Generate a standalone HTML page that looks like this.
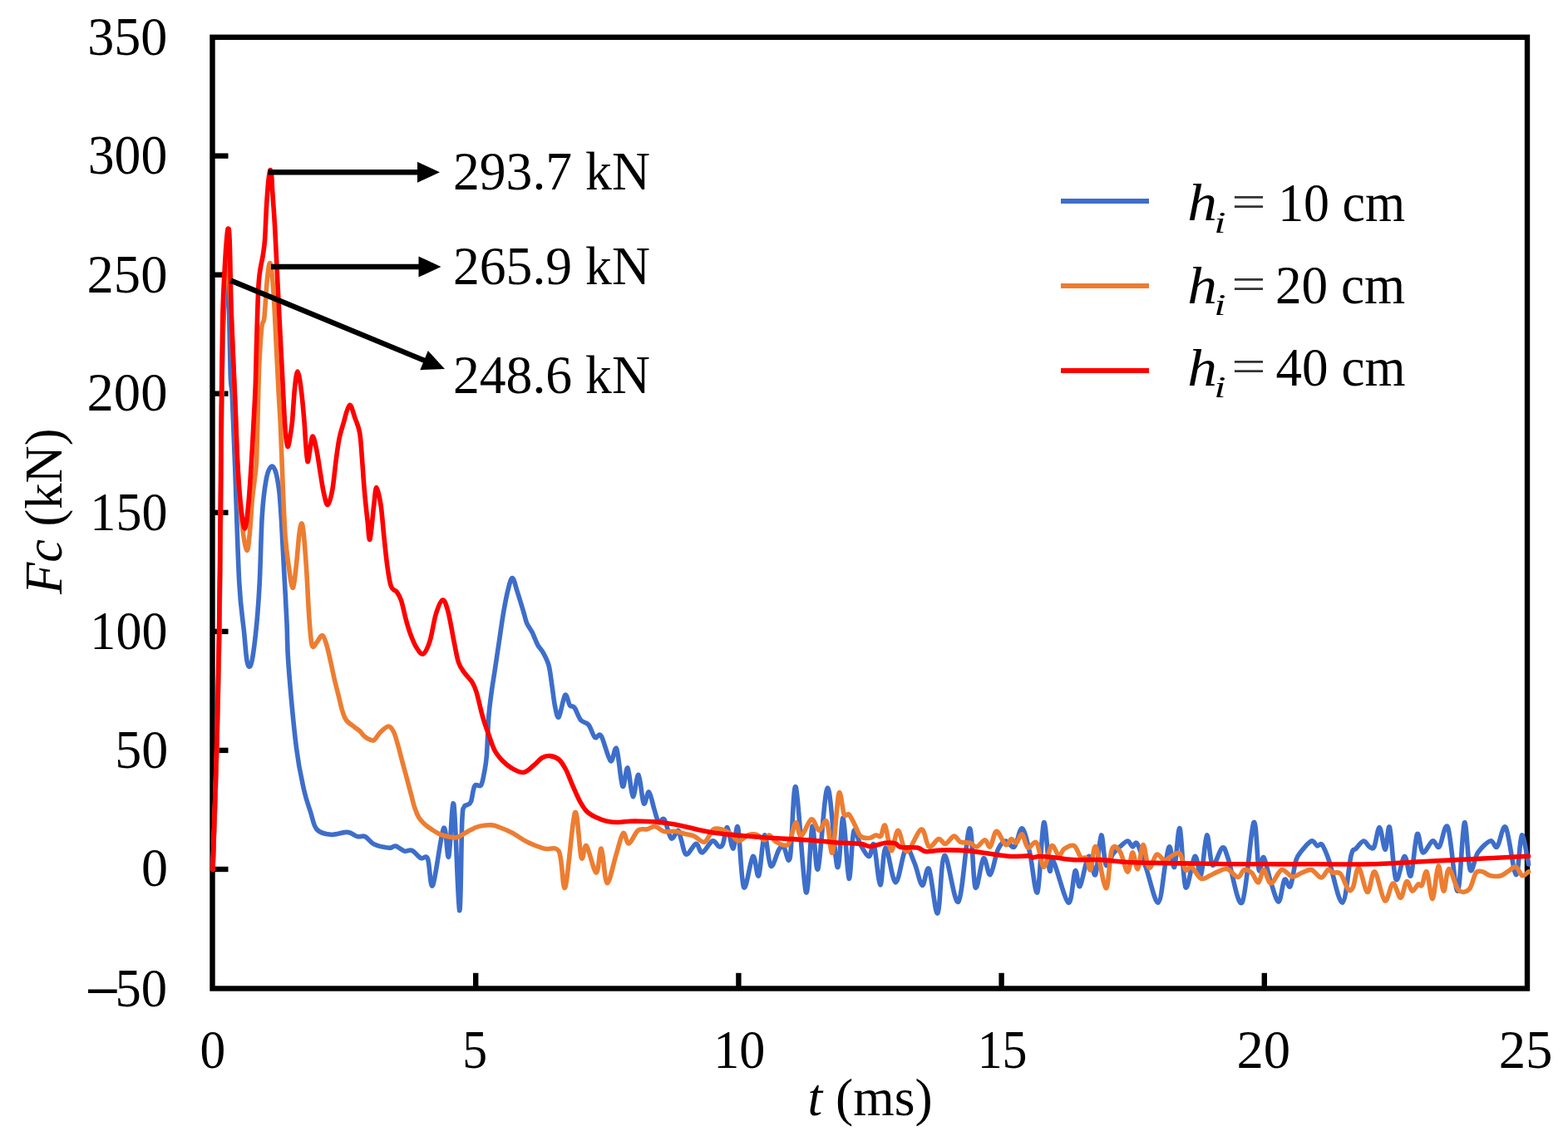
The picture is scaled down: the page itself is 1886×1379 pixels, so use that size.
<!DOCTYPE html>
<html><head><meta charset="utf-8"><title>Fc vs t</title>
<style>html,body{margin:0;padding:0;background:#fff;}svg{display:block;}</style>
</head><body>
<svg width="1886" height="1379" viewBox="0 0 1886 1379">
<rect width="1886" height="1379" fill="#fff"/>
<rect x="255.5" y="44.8" width="1581.5" height="1144.7" fill="none" stroke="#000" stroke-width="6.4"/>
<line x1="255" y1="1046.0" x2="274.5" y2="1046.0" stroke="#000" stroke-width="6.4"/>
<line x1="255" y1="902.9" x2="274.5" y2="902.9" stroke="#000" stroke-width="6.4"/>
<line x1="255" y1="759.9" x2="274.5" y2="759.9" stroke="#000" stroke-width="6.4"/>
<line x1="255" y1="616.8" x2="274.5" y2="616.8" stroke="#000" stroke-width="6.4"/>
<line x1="255" y1="473.7" x2="274.5" y2="473.7" stroke="#000" stroke-width="6.4"/>
<line x1="255" y1="330.7" x2="274.5" y2="330.7" stroke="#000" stroke-width="6.4"/>
<line x1="255" y1="187.6" x2="274.5" y2="187.6" stroke="#000" stroke-width="6.4"/>
<line x1="572.2" y1="1190" x2="572.2" y2="1170.8" stroke="#000" stroke-width="6.4"/>
<line x1="888.4" y1="1190" x2="888.4" y2="1170.8" stroke="#000" stroke-width="6.4"/>
<line x1="1204.6" y1="1190" x2="1204.6" y2="1170.8" stroke="#000" stroke-width="6.4"/>
<line x1="1520.8" y1="1190" x2="1520.8" y2="1170.8" stroke="#000" stroke-width="6.4"/>
<path d="M256.0 1046.0C256.8 1021.7 259.5 947.7 260.8 900.0C262.1 852.3 263.0 810.0 263.8 760.0C264.6 710.0 265.2 643.3 265.6 600.0C266.1 556.7 266.0 533.3 266.5 500.0C267.0 466.7 267.7 424.7 268.4 400.0C269.1 375.3 270.0 363.2 270.8 352.0C271.6 340.8 272.6 334.2 273.3 333.0C274.0 331.8 274.4 325.5 275.0 345.0C275.6 364.5 276.5 428.0 277.2 450.0C277.9 472.0 278.4 458.7 279.3 477.0C280.2 495.3 281.2 522.8 282.6 560.0C284.0 597.2 285.9 666.7 287.7 700.0C289.5 733.3 291.9 744.2 293.5 760.0C295.1 775.8 295.8 788.0 297.0 795.0C298.2 802.0 299.5 802.8 300.7 802.0C301.9 801.2 302.6 798.7 304.0 790.0C305.4 781.3 307.4 765.0 308.8 750.0C310.2 735.0 311.2 721.7 312.3 700.0C313.4 678.3 314.0 640.3 315.3 620.0C316.6 599.7 318.3 587.7 320.0 578.0C321.7 568.3 323.7 564.0 325.5 562.0C327.3 560.0 329.3 561.3 331.0 566.0C332.7 570.7 334.4 579.8 335.7 590.0C336.9 600.2 337.6 612.0 338.5 627.0C339.4 642.0 340.2 659.5 341.3 680.0C342.4 700.5 344.1 730.0 345.0 750.0C345.9 770.0 345.1 775.0 347.0 800.0C348.9 825.0 353.4 875.0 356.5 900.0C359.6 925.0 362.7 937.2 365.5 950.0C368.3 962.8 370.9 969.0 373.5 977.0C376.1 985.0 376.9 993.5 381.0 998.0C385.1 1002.5 391.6 1003.7 397.8 1004.3C404.0 1004.9 412.6 1001.0 418.0 1001.4C423.4 1001.8 426.5 1005.7 430.0 1006.6C433.5 1007.5 435.8 1005.1 439.1 1006.6C442.4 1008.1 445.0 1013.5 449.8 1015.8C454.6 1018.1 463.8 1019.9 468.1 1020.3C472.4 1020.7 472.6 1017.4 475.7 1018.0C478.8 1018.6 483.1 1023.2 486.4 1024.1C489.7 1025.0 492.2 1022.0 495.5 1023.4C498.8 1024.8 503.0 1030.8 506.2 1032.5C509.4 1034.2 512.1 1027.8 514.5 1033.3C516.9 1038.8 517.4 1071.4 520.6 1065.3C523.8 1059.2 530.4 1002.4 533.6 996.7C536.8 991.0 537.7 1035.8 539.7 1031.0C541.7 1026.2 543.6 957.0 545.8 967.8C547.9 978.6 550.9 1092.3 552.6 1095.7C554.3 1099.1 554.8 1008.8 555.8 988.0C556.8 967.2 557.3 974.2 558.3 971.0C559.3 967.8 560.6 969.6 562.0 968.5C563.4 967.4 565.0 968.3 566.5 964.5C568.0 960.7 568.9 949.0 570.9 945.7C572.9 942.5 576.6 947.5 578.5 945.0C580.4 942.5 581.1 936.5 582.3 930.5C583.4 924.5 584.5 920.5 585.4 909.1C586.3 897.7 586.8 875.2 587.8 862.3C588.8 849.3 590.2 840.5 591.4 831.4C592.6 822.3 593.5 817.9 595.0 807.9C596.5 797.9 598.6 783.7 600.4 771.6C602.2 759.5 604.1 745.6 605.9 735.3C607.7 725.0 609.3 716.6 611.0 710.0C612.7 703.4 614.4 695.2 616.3 695.5C618.2 695.8 620.0 704.9 622.2 711.8C624.5 718.6 627.9 730.3 629.8 736.6C631.7 742.9 631.9 745.6 633.6 749.7C635.3 753.8 638.0 756.6 640.2 761.0C642.4 765.4 644.6 772.0 646.8 776.1C649.0 780.2 651.2 781.5 653.4 785.6C655.6 789.7 658.3 794.3 660.0 800.6C661.7 806.9 662.5 815.1 663.7 823.3C665.0 831.5 666.1 843.0 667.5 849.6C668.9 856.2 670.2 865.0 672.2 862.8C674.2 860.6 677.5 838.9 679.7 836.5C681.9 834.1 683.5 846.2 685.4 848.7C687.3 851.2 688.8 848.5 691.0 851.5C693.2 854.5 695.8 863.1 698.6 866.6C701.4 870.1 705.2 868.8 708.0 872.3C710.8 875.8 713.1 885.2 715.6 887.4C718.1 889.6 720.0 880.8 723.1 885.5C726.2 890.2 731.3 913.0 734.4 915.6C737.5 918.2 739.2 895.9 741.6 901.0C744.0 906.1 746.6 942.2 748.8 946.1C751.0 950.0 752.9 922.0 755.0 924.1C757.1 926.2 759.0 957.1 761.2 958.5C763.4 959.9 765.8 931.0 768.0 932.4C770.2 933.8 772.2 963.4 774.3 966.8C776.4 970.2 778.4 952.0 780.5 953.0C782.6 954.0 784.8 966.9 786.7 973.0C788.7 979.1 790.2 987.3 792.2 989.5C794.2 991.7 796.5 982.8 799.0 986.0C801.5 989.2 804.5 1006.6 807.3 1008.8C810.1 1011.0 813.6 999.1 815.6 999.2C817.6 999.3 817.5 1004.8 819.1 1009.6C820.8 1014.4 822.5 1027.2 825.5 1028.2C828.5 1029.2 833.9 1015.8 837.1 1015.4C840.3 1015.0 841.4 1026.5 844.7 1025.9C848.0 1025.3 853.5 1013.2 856.9 1012.0C860.3 1010.8 862.9 1018.3 865.0 1018.9C867.1 1019.5 868.0 1019.3 869.6 1015.4C871.2 1011.5 872.9 994.7 874.9 995.7C876.9 996.7 879.7 1021.2 881.8 1021.2C883.9 1021.2 885.5 988.0 887.6 995.7C889.7 1003.5 891.6 1061.9 894.6 1067.7C897.6 1073.5 902.6 1032.8 905.6 1030.5C908.6 1028.2 910.3 1058.0 912.6 1053.7C914.9 1049.5 917.1 1006.9 919.5 1005.0C921.9 1003.1 924.2 1039.2 927.1 1042.1C930.0 1045.0 934.3 1026.3 936.9 1022.4C939.5 1018.5 940.5 1017.3 942.7 1018.9C944.9 1020.5 947.9 1043.7 950.3 1031.7C952.7 1019.7 954.0 940.0 957.2 947.0C960.4 954.0 966.1 1065.6 969.4 1073.5C972.7 1081.4 974.6 999.1 977.0 994.5C979.4 989.9 980.8 1053.3 983.9 1045.6C987.0 1037.9 991.6 948.5 995.5 948.1C999.4 947.7 1004.0 1037.3 1007.1 1043.3C1010.2 1049.3 1011.8 981.8 1014.1 984.1C1016.4 986.4 1019.0 1054.5 1021.1 1057.2C1023.2 1059.9 1024.6 1007.1 1026.9 1000.3C1029.2 993.5 1031.9 1011.6 1035.0 1016.6C1038.1 1021.6 1042.7 1030.5 1045.4 1030.5C1048.1 1030.5 1049.0 1010.9 1051.2 1016.6C1053.4 1022.3 1056.5 1064.2 1058.8 1064.8C1061.1 1065.4 1062.1 1020.6 1065.2 1020.1C1068.3 1019.6 1073.2 1061.7 1077.3 1061.9C1081.3 1062.1 1085.7 1025.1 1089.5 1021.2C1093.3 1017.3 1096.7 1031.2 1100.0 1038.6C1103.3 1045.9 1106.4 1064.1 1109.3 1065.3C1112.2 1066.5 1114.3 1040.0 1117.4 1045.6C1120.5 1051.2 1124.7 1101.7 1127.8 1099.0C1130.9 1096.3 1131.8 1031.7 1136.0 1029.4C1140.2 1027.1 1147.8 1090.4 1152.8 1085.0C1157.8 1079.6 1162.7 999.8 1166.1 996.9C1169.5 994.0 1170.3 1061.7 1173.1 1067.7C1175.9 1073.7 1179.9 1035.3 1182.9 1032.8C1185.9 1030.3 1188.2 1054.3 1191.1 1052.6C1194.0 1050.9 1197.2 1029.2 1200.3 1022.4C1203.4 1015.6 1206.3 1012.6 1209.6 1012.0C1212.9 1011.4 1216.8 1021.4 1220.1 1018.9C1223.4 1016.4 1226.3 995.7 1229.4 996.9C1232.5 998.1 1235.5 1013.1 1238.6 1025.9C1241.7 1038.7 1245.1 1079.5 1247.9 1073.5C1250.7 1067.5 1253.1 994.4 1255.5 989.9C1257.9 985.4 1260.5 1039.1 1262.4 1046.8C1264.3 1054.5 1263.3 1029.7 1267.1 1036.3C1270.9 1042.9 1280.8 1084.3 1285.1 1086.2C1289.4 1088.1 1290.9 1051.2 1293.2 1047.9C1295.5 1044.6 1296.3 1069.4 1299.0 1066.5C1301.7 1063.6 1306.3 1032.8 1309.4 1030.5C1312.5 1028.2 1315.1 1056.8 1317.6 1052.6C1320.1 1048.3 1322.4 1006.9 1324.5 1005.0C1326.6 1003.1 1327.9 1037.3 1330.3 1041.0C1332.7 1044.7 1336.2 1030.7 1339.0 1027.0C1341.8 1023.3 1344.2 1021.4 1347.1 1018.9C1350.0 1016.4 1353.9 1012.0 1356.4 1012.0C1358.9 1012.0 1360.3 1018.3 1362.2 1018.9C1364.1 1019.5 1365.3 1011.1 1368.0 1015.4C1370.7 1019.6 1374.3 1032.6 1378.5 1044.4C1382.7 1056.2 1389.1 1087.0 1393.0 1086.2C1396.9 1085.4 1399.4 1051.0 1401.7 1039.8C1404.0 1028.6 1405.1 1018.3 1406.9 1018.9C1408.7 1019.5 1410.7 1047.0 1412.7 1043.3C1414.7 1039.6 1416.9 992.8 1419.1 996.9C1421.3 1001.0 1423.0 1062.1 1426.0 1067.7C1429.0 1073.3 1434.0 1033.0 1437.1 1030.5C1440.2 1028.0 1442.2 1056.8 1444.6 1052.6C1447.0 1048.3 1449.3 1006.9 1451.6 1005.0C1453.9 1003.1 1455.4 1038.5 1458.5 1041.0C1461.6 1043.5 1467.0 1021.5 1470.1 1020.1C1473.2 1018.7 1473.1 1021.8 1477.1 1032.8C1481.1 1043.8 1488.9 1093.2 1494.0 1086.0C1499.1 1078.8 1504.5 996.4 1507.9 989.9C1511.3 983.4 1512.2 1039.8 1514.2 1046.8C1516.2 1053.8 1517.6 1029.2 1520.0 1031.7C1522.4 1034.2 1525.7 1053.0 1528.7 1061.9C1531.7 1070.8 1535.3 1085.7 1538.0 1085.1C1540.7 1084.5 1542.7 1061.5 1545.0 1058.4C1547.3 1055.3 1549.7 1070.4 1552.0 1066.5C1554.3 1062.6 1556.6 1042.4 1558.9 1035.2C1561.2 1028.0 1562.8 1027.5 1565.9 1023.6C1569.0 1019.7 1574.4 1013.0 1577.5 1012.0C1580.6 1011.0 1582.3 1017.0 1584.4 1017.8C1586.5 1018.6 1587.9 1013.7 1590.2 1016.6C1592.5 1019.5 1594.3 1023.6 1598.4 1035.2C1602.5 1046.8 1610.1 1087.2 1614.6 1086.2C1619.0 1085.2 1622.4 1040.2 1625.1 1029.4C1627.8 1018.6 1628.4 1024.1 1630.9 1021.2C1633.4 1018.3 1637.4 1012.4 1640.1 1012.0C1642.8 1011.6 1645.0 1017.8 1647.1 1018.9C1649.2 1020.0 1650.9 1022.8 1652.9 1018.9C1654.9 1015.0 1657.1 995.1 1659.3 995.7C1661.5 996.3 1664.2 1022.4 1666.2 1022.4C1668.2 1022.4 1669.4 989.8 1671.5 995.7C1673.6 1001.6 1676.0 1052.2 1679.0 1058.0C1682.0 1063.8 1686.4 1031.2 1689.4 1030.5C1692.4 1029.8 1694.5 1058.2 1697.0 1053.7C1699.5 1049.2 1702.1 1008.4 1704.5 1003.8C1706.9 999.1 1708.4 1024.5 1711.5 1025.8C1714.6 1027.1 1719.8 1013.0 1723.1 1011.9C1726.4 1010.8 1728.1 1021.6 1731.2 1018.9C1734.3 1016.2 1737.9 986.8 1741.6 995.7C1745.3 1004.6 1749.9 1073.2 1753.2 1072.2C1756.5 1071.2 1758.9 994.1 1761.4 989.9C1763.9 985.6 1765.6 1040.7 1768.3 1046.7C1771.0 1052.7 1773.5 1031.6 1777.6 1025.8C1781.7 1020.0 1788.8 1013.0 1792.7 1011.9C1796.6 1010.8 1797.7 1021.6 1800.8 1018.9C1803.9 1016.2 1807.4 990.1 1811.2 995.7C1815.0 1001.3 1820.2 1051.0 1823.4 1052.5C1826.6 1054.0 1827.9 1007.1 1830.4 1005.0C1832.9 1002.9 1837.2 1034.2 1838.5 1040.0" fill="none" stroke="#3D6ECA" stroke-width="5.6" stroke-linejoin="round" stroke-linecap="round"/>
<path d="M256.0 1046.0C256.8 1021.7 259.5 947.7 260.8 900.0C262.1 852.3 263.0 810.0 263.8 760.0C264.6 710.0 265.2 643.3 265.6 600.0C266.1 556.7 266.1 536.7 266.5 500.0C266.9 463.3 267.5 409.2 268.3 380.0C269.1 350.8 270.5 337.3 271.3 325.0C272.1 312.7 272.3 305.2 273.0 306.0C273.7 306.8 274.6 317.7 275.5 330.0C276.4 342.3 277.1 355.5 278.2 380.0C279.3 404.5 281.1 447.0 282.4 477.0C283.7 507.0 284.4 535.3 285.8 560.0C287.2 584.7 288.7 608.0 290.5 625.0C292.3 642.0 295.1 659.5 296.8 662.0C298.5 664.5 299.4 650.0 300.5 640.0C301.6 630.0 302.3 612.8 303.3 602.0C304.3 591.2 305.6 583.7 306.5 575.0C307.4 566.3 308.0 567.5 308.7 550.0C309.4 532.5 310.2 489.3 310.8 470.0C311.4 450.7 311.3 446.8 312.0 434.0C312.7 421.2 313.9 401.7 314.9 393.0C315.9 384.3 316.8 391.7 317.9 382.0C319.0 372.3 320.3 345.8 321.5 335.0C322.7 324.2 323.8 314.2 325.0 317.0C326.2 319.8 327.8 334.8 329.0 352.0C330.2 369.2 331.5 400.3 332.5 420.0C333.5 439.7 334.2 454.3 335.0 470.0C335.8 485.7 336.6 494.0 337.5 514.0C338.4 534.0 339.4 568.0 340.4 590.0C341.3 612.0 342.1 631.3 343.2 646.0C344.3 660.7 345.3 667.8 346.8 678.0C348.3 688.2 350.4 707.2 352.0 707.5C353.6 707.8 355.1 690.9 356.4 680.0C357.7 669.1 358.9 650.3 360.0 642.0C361.1 633.7 362.1 629.5 363.0 630.0C363.9 630.5 364.5 635.0 365.5 645.0C366.5 655.0 368.1 677.5 368.9 690.0C369.7 702.5 370.0 711.0 370.5 720.0C371.0 729.0 371.3 735.3 371.9 743.8C372.5 752.3 373.5 765.2 374.3 771.0C375.1 776.8 375.6 778.2 376.7 778.5C377.8 778.8 379.1 775.3 381.0 773.0C382.9 770.7 385.9 764.1 387.9 764.6C389.8 765.1 391.1 770.7 392.7 775.7C394.3 780.8 395.8 788.0 397.4 794.9C399.0 801.8 400.6 810.3 402.2 817.2C403.8 824.1 405.4 830.0 407.0 836.4C408.6 842.8 410.2 850.5 411.8 855.5C413.4 860.5 414.2 863.5 416.6 866.7C419.0 869.9 423.6 872.6 426.2 874.7C428.8 876.8 430.4 877.5 432.5 879.5C434.6 881.5 436.8 884.8 438.9 886.5C441.0 888.2 443.1 889.4 445.0 890.0C446.9 890.6 447.9 892.0 450.1 890.4C452.3 888.8 455.2 883.2 458.1 880.5C461.0 877.8 464.7 874.1 467.2 874.0C469.7 873.9 471.3 876.5 473.2 880.0C475.1 883.5 476.8 890.1 478.3 895.2C479.8 900.3 481.0 905.4 482.3 910.5C483.6 915.6 485.0 920.6 486.4 925.7C487.8 930.8 489.1 935.8 490.5 940.9C491.9 946.0 493.1 951.0 494.5 956.1C495.9 961.2 497.1 966.8 498.6 971.4C500.1 976.0 501.7 980.2 503.7 983.6C505.7 987.0 508.3 989.3 510.8 991.7C513.3 994.1 515.9 995.8 518.9 997.8C521.9 999.8 525.5 1002.4 529.0 1003.9C532.5 1005.4 536.5 1006.3 540.0 1006.9C543.5 1007.5 546.3 1008.6 550.3 1007.4C554.3 1006.2 559.7 1002.0 564.0 999.8C568.3 997.6 571.6 995.5 576.2 994.4C580.8 993.2 587.2 992.6 591.5 992.9C595.8 993.2 598.1 994.5 602.1 996.0C606.1 997.5 610.5 999.2 615.8 1002.0C621.1 1004.8 627.4 1009.8 633.8 1013.0C640.2 1016.2 648.0 1019.2 654.4 1021.2C660.8 1023.2 668.0 1017.0 672.3 1024.7C676.5 1032.4 676.7 1075.2 679.9 1067.4C683.1 1059.6 688.4 983.7 691.6 977.8C694.8 971.9 696.9 1025.5 699.2 1032.2C701.5 1038.9 702.4 1014.8 705.4 1017.8C708.4 1020.8 714.1 1049.5 717.1 1050.1C720.1 1050.7 721.1 1019.1 723.3 1021.2C725.5 1023.3 727.2 1061.3 730.2 1062.5C733.2 1063.7 738.0 1038.1 741.2 1028.1C744.4 1018.1 747.0 1004.8 749.5 1002.6C752.0 1000.4 753.4 1015.6 756.4 1015.0C759.4 1014.4 763.7 1002.1 767.4 999.2C771.1 996.3 775.0 998.6 778.4 997.8C781.8 997.0 784.6 993.9 788.0 994.4C791.4 994.9 795.1 999.6 799.0 1000.6C802.9 1001.6 807.6 999.9 811.6 1000.3C815.6 1000.7 819.3 1002.2 823.2 1003.2C827.1 1004.2 830.7 1004.5 834.8 1006.1C838.9 1007.8 843.7 1014.5 847.6 1013.1C851.5 1011.8 854.3 1000.4 858.0 998.0C861.7 995.6 866.1 997.7 869.6 998.6C873.1 999.5 875.8 1001.0 878.9 1003.2C882.0 1005.4 884.7 1011.7 888.2 1012.0C891.7 1012.3 896.1 1006.3 899.8 1005.0C903.5 1003.7 906.9 1003.4 910.2 1004.4C913.5 1005.4 917.0 1010.7 919.5 1010.8C922.0 1010.9 923.0 1004.6 925.3 1005.0C927.6 1005.4 930.0 1011.1 933.5 1013.1C937.0 1015.1 943.3 1017.8 946.2 1017.2C949.1 1016.6 949.1 1014.2 950.9 1009.6C952.7 1005.0 955.1 990.5 957.2 989.9C959.3 989.3 960.5 1006.8 963.6 1006.1C966.7 1005.4 972.4 986.9 976.0 985.8C979.6 984.6 982.0 998.7 985.1 999.2C988.2 999.7 991.7 984.2 994.4 988.7C997.1 993.2 998.9 1031.5 1001.3 1025.9C1003.7 1020.3 1006.6 962.8 1008.9 955.1C1011.2 947.5 1013.3 975.9 1015.3 980.0C1017.3 984.1 1019.0 978.0 1021.1 980.0C1023.2 982.0 1025.7 987.9 1028.0 992.2C1030.3 996.6 1032.1 1003.4 1035.0 1006.1C1037.9 1008.8 1042.3 1008.7 1045.4 1008.5C1048.5 1008.3 1051.3 1005.4 1053.6 1005.0C1055.9 1004.6 1057.6 1008.0 1059.4 1006.1C1061.2 1004.2 1062.5 990.5 1064.6 993.4C1066.7 996.3 1069.5 1022.6 1072.1 1023.6C1074.7 1024.6 1077.1 999.0 1080.2 999.2C1083.3 999.4 1086.1 1024.9 1090.7 1024.7C1095.3 1024.5 1103.6 999.0 1108.1 998.0C1112.5 997.0 1113.9 1017.0 1117.4 1018.9C1120.9 1020.8 1125.7 1010.2 1129.0 1009.6C1132.3 1009.0 1134.0 1016.0 1137.1 1015.4C1140.2 1014.8 1144.5 1006.5 1147.5 1006.1C1150.5 1005.7 1151.9 1011.7 1155.1 1013.1C1158.3 1014.5 1163.4 1013.3 1166.7 1014.3C1170.0 1015.3 1171.8 1019.5 1174.8 1018.9C1177.8 1018.3 1182.0 1010.8 1184.7 1010.8C1187.4 1010.8 1188.8 1020.6 1191.1 1018.9C1193.4 1017.1 1195.5 1000.7 1198.6 1000.3C1201.7 999.9 1206.6 1015.0 1209.6 1016.6C1212.6 1018.2 1214.5 1010.0 1216.6 1009.6C1218.7 1009.2 1220.3 1015.3 1222.4 1014.3C1224.5 1013.3 1227.1 1002.8 1229.4 1003.8C1231.7 1004.8 1233.4 1018.4 1236.3 1020.1C1239.2 1021.9 1243.6 1010.4 1246.8 1014.3C1250.0 1018.2 1252.5 1042.7 1255.5 1043.3C1258.5 1043.9 1261.8 1020.1 1264.8 1017.8C1267.8 1015.5 1270.9 1028.8 1273.5 1029.4C1276.1 1030.0 1277.3 1023.1 1280.4 1021.2C1283.5 1019.3 1288.7 1016.0 1292.0 1017.8C1295.3 1019.5 1297.6 1029.2 1300.1 1031.7C1302.6 1034.2 1305.1 1030.3 1307.1 1032.8C1309.0 1035.3 1310.0 1049.1 1311.8 1046.8C1313.6 1044.5 1315.0 1015.2 1318.1 1018.9C1321.2 1022.6 1327.1 1068.2 1330.3 1068.8C1333.5 1069.4 1334.5 1029.8 1337.3 1022.4C1340.1 1015.0 1343.9 1020.2 1347.1 1024.7C1350.3 1029.2 1353.9 1048.9 1356.4 1049.1C1358.9 1049.3 1360.2 1026.5 1362.2 1025.9C1364.2 1025.3 1366.5 1047.1 1368.6 1045.6C1370.7 1044.0 1372.8 1016.8 1375.0 1016.6C1377.2 1016.4 1379.3 1042.5 1382.0 1044.4C1384.7 1046.3 1388.1 1029.7 1391.2 1028.2C1394.3 1026.7 1397.6 1034.8 1400.5 1035.2C1403.4 1035.6 1405.5 1031.9 1408.6 1030.5C1411.7 1029.1 1416.2 1024.3 1419.1 1027.0C1422.0 1029.7 1423.7 1044.1 1426.0 1046.8C1428.3 1049.5 1429.9 1041.6 1433.0 1043.3C1436.1 1045.0 1440.9 1055.5 1444.6 1057.2C1448.3 1058.9 1451.8 1055.1 1455.1 1053.7C1458.4 1052.3 1460.8 1050.4 1464.3 1049.1C1467.8 1047.8 1471.9 1044.5 1476.0 1045.6C1480.1 1046.7 1485.6 1055.3 1489.0 1055.5C1492.4 1055.7 1493.5 1047.7 1496.2 1046.8C1499.0 1045.9 1502.6 1047.7 1505.5 1050.2C1508.4 1052.7 1511.3 1062.5 1513.7 1061.9C1516.1 1061.3 1517.5 1046.6 1520.0 1046.8C1522.5 1047.0 1525.1 1063.0 1528.7 1063.0C1532.3 1063.0 1537.2 1048.1 1541.5 1046.8C1545.8 1045.5 1550.2 1054.3 1554.3 1054.9C1558.4 1055.5 1562.0 1051.6 1565.9 1050.2C1569.8 1048.8 1573.6 1045.8 1577.5 1046.8C1581.4 1047.8 1585.8 1056.0 1589.1 1056.0C1592.4 1056.0 1594.9 1047.8 1597.2 1046.8C1599.5 1045.8 1600.5 1049.4 1603.0 1050.2C1605.5 1051.0 1609.2 1048.1 1612.3 1051.4C1615.4 1054.7 1619.1 1067.3 1621.6 1070.0C1624.1 1072.7 1625.3 1072.0 1627.4 1067.7C1629.5 1063.4 1631.4 1043.4 1634.3 1044.4C1637.2 1045.4 1641.6 1072.7 1644.8 1073.5C1648.0 1074.3 1650.0 1047.3 1653.5 1049.0C1657.0 1050.7 1662.0 1081.5 1665.7 1083.8C1669.4 1086.1 1672.3 1063.6 1675.5 1063.0C1678.7 1062.4 1682.1 1080.8 1684.8 1080.4C1687.5 1080.0 1689.5 1062.0 1691.8 1060.6C1694.1 1059.2 1696.4 1071.6 1698.7 1072.2C1701.0 1072.8 1703.8 1065.2 1705.7 1064.1C1707.6 1062.9 1708.6 1067.8 1710.3 1065.3C1712.0 1062.8 1714.0 1046.3 1716.1 1049.0C1718.2 1051.7 1720.8 1082.7 1723.1 1081.5C1725.4 1080.3 1727.8 1043.6 1730.0 1042.1C1732.2 1040.5 1734.3 1071.6 1736.4 1072.2C1738.5 1072.8 1739.8 1045.8 1742.8 1045.6C1745.8 1045.4 1750.3 1067.0 1754.4 1071.1C1758.5 1075.1 1763.7 1073.4 1767.2 1069.9C1770.7 1066.4 1772.6 1053.7 1775.3 1050.2C1778.0 1046.7 1780.5 1048.4 1783.4 1049.0C1786.3 1049.6 1789.0 1052.9 1792.7 1053.7C1796.4 1054.5 1801.7 1054.7 1805.4 1053.7C1809.1 1052.7 1811.7 1049.7 1814.7 1047.9C1817.7 1046.2 1820.7 1042.2 1823.4 1043.2C1826.1 1044.2 1828.5 1052.7 1831.0 1053.7C1833.5 1054.7 1837.2 1049.8 1838.5 1049.0" fill="none" stroke="#ED7D31" stroke-width="5.6" stroke-linejoin="round" stroke-linecap="round"/>
<path d="M256.0 1046.0C256.8 1021.7 259.2 947.7 260.5 900.0C261.8 852.3 262.7 810.0 263.5 760.0C264.3 710.0 264.9 643.3 265.3 600.0C265.8 556.7 265.8 536.7 266.2 500.0C266.6 463.3 267.1 410.8 267.8 380.0C268.6 349.2 269.9 330.3 270.7 315.0C271.5 299.7 272.0 294.7 272.6 288.0C273.2 281.3 273.8 274.7 274.4 275.0C275.0 275.3 275.5 272.5 276.2 290.0C276.9 307.5 277.3 348.8 278.4 380.0C279.5 411.2 281.4 447.0 282.6 477.0C283.9 507.0 284.7 537.5 285.9 560.0C287.1 582.5 288.6 599.3 290.0 612.0C291.4 624.7 293.2 636.3 294.6 636.0C296.0 635.7 297.2 622.7 298.5 610.0C299.8 597.3 301.0 578.3 302.2 560.0C303.4 541.7 304.6 516.7 305.5 500.0C306.4 483.3 306.8 475.8 307.4 460.0C307.9 444.2 308.2 423.9 308.8 405.0C309.4 386.1 310.1 359.8 310.8 346.5C311.5 333.2 312.0 331.6 312.9 325.0C313.8 318.4 315.4 313.2 316.3 307.0C317.2 300.8 317.9 297.7 318.6 288.0C319.3 278.3 319.8 260.7 320.5 249.0C321.2 237.3 322.1 225.4 322.8 218.0C323.6 210.6 324.3 205.2 325.0 204.5C325.7 203.8 326.5 209.9 326.9 214.0C327.3 218.1 327.0 220.0 327.6 229.0C328.2 238.0 329.5 254.9 330.3 268.0C331.1 281.1 331.5 291.1 332.3 307.4C333.1 323.7 334.2 346.4 335.2 366.0C336.2 385.6 337.3 408.1 338.2 424.8C339.1 441.5 339.5 450.5 340.3 466.0C341.1 481.5 342.2 506.1 343.2 518.0C344.1 529.9 344.9 536.8 346.0 537.5C347.1 538.2 348.6 527.4 349.5 522.0C350.4 516.6 350.9 514.2 351.7 505.0C352.5 495.8 353.5 476.7 354.5 467.0C355.5 457.3 356.6 447.0 357.9 447.0C359.1 447.0 360.7 457.3 362.0 467.0C363.3 476.7 364.9 494.0 365.8 505.0C366.8 516.0 367.0 524.6 367.7 533.0C368.4 541.4 369.1 554.3 370.0 555.5C370.9 556.7 372.0 545.1 373.0 540.0C374.0 534.9 374.9 524.7 376.2 525.0C377.5 525.3 379.3 534.3 380.9 542.0C382.5 549.7 384.2 562.5 385.6 571.0C387.0 579.5 388.0 586.9 389.4 593.0C390.8 599.1 392.4 608.0 394.1 607.5C395.8 607.0 398.0 599.2 399.7 590.0C401.4 580.8 403.0 562.5 404.4 552.0C405.8 541.5 406.8 534.0 408.2 527.0C409.6 520.0 410.9 516.6 412.9 510.0C414.9 503.4 418.0 488.7 420.4 487.5C422.8 486.3 424.9 497.4 427.0 503.0C429.1 508.6 431.3 512.8 432.7 521.0C434.1 529.2 434.6 540.5 435.5 552.0C436.4 563.5 437.2 577.5 438.3 590.0C439.4 602.5 441.0 617.2 442.1 627.0C443.2 636.8 443.7 652.2 445.0 649.0C446.3 645.8 448.4 618.4 449.7 608.0C451.0 597.6 451.5 586.5 452.9 586.5C454.3 586.5 456.6 598.1 458.1 608.0C459.6 617.9 460.6 634.0 461.9 646.0C463.2 658.0 464.4 670.3 465.7 680.0C467.0 689.7 468.5 699.0 469.9 704.0C471.3 709.0 472.8 708.7 474.0 710.0C475.2 711.3 475.7 709.9 477.1 712.0C478.5 714.1 480.8 717.2 482.6 722.6C484.4 728.0 486.2 737.8 488.0 744.4C489.8 751.0 491.4 756.8 493.5 762.5C495.6 768.2 498.1 774.7 500.7 778.8C503.3 782.9 506.2 788.2 508.9 787.0C511.6 785.8 514.4 779.6 517.0 771.6C519.6 763.6 521.7 747.3 524.3 739.0C526.9 730.7 530.0 722.6 532.4 722.0C534.8 721.4 536.5 727.0 538.8 735.3C541.1 743.6 543.9 761.3 546.0 771.6C548.1 781.9 549.4 790.6 551.5 797.0C553.6 803.4 556.0 805.8 558.7 809.7C561.4 813.6 565.4 816.7 567.8 820.6C570.2 824.5 571.1 826.2 573.2 833.2C575.3 840.2 578.1 853.8 580.5 862.3C582.9 870.8 585.4 877.2 587.8 884.0C590.2 890.8 592.3 897.8 595.0 903.0C597.7 908.2 600.7 911.5 604.0 915.0C607.3 918.5 610.8 921.6 615.0 924.0C619.2 926.4 625.0 930.0 629.5 929.5C634.0 929.0 638.3 923.9 642.0 921.0C645.7 918.1 648.5 913.9 651.7 912.0C654.9 910.1 657.9 909.3 661.3 909.6C664.7 909.9 669.1 911.3 672.3 914.0C675.5 916.7 677.8 920.8 680.6 926.0C683.4 931.2 686.1 939.2 688.9 945.5C691.6 951.8 694.4 958.4 697.1 963.5C699.9 968.6 702.2 972.7 705.4 976.0C708.6 979.3 712.3 981.3 716.4 983.3C720.5 985.3 725.6 987.2 730.2 988.2C734.8 989.2 739.4 989.5 744.0 989.5C748.6 989.5 753.1 988.4 757.7 988.2C762.3 988.0 766.9 988.1 771.5 988.2C776.1 988.3 780.7 988.5 785.3 988.8C789.9 989.1 793.2 989.4 799.0 990.2C804.8 991.0 810.2 991.7 820.0 993.7C829.8 995.7 842.0 999.7 858.0 1002.0C874.0 1004.3 897.3 1006.0 916.0 1007.5C934.7 1009.0 955.2 1009.8 970.0 1010.8C984.8 1011.8 994.0 1012.9 1004.8 1013.7C1015.6 1014.5 1028.0 1014.6 1035.0 1015.4C1042.0 1016.2 1041.6 1018.7 1046.6 1018.5C1051.6 1018.3 1060.2 1014.9 1065.2 1014.3C1070.2 1013.7 1073.7 1014.0 1076.8 1014.9C1079.9 1015.8 1079.2 1018.6 1083.7 1019.5C1088.2 1020.4 1098.5 1019.2 1103.5 1020.1C1108.5 1021.0 1109.1 1024.2 1113.9 1024.7C1118.7 1025.2 1124.3 1023.2 1132.5 1023.0C1140.7 1022.8 1153.2 1022.8 1163.2 1023.6C1173.2 1024.4 1183.5 1026.4 1192.2 1027.6C1200.9 1028.8 1207.9 1030.1 1215.4 1030.5C1223.0 1030.9 1233.0 1029.7 1237.5 1029.9C1242.0 1030.2 1240.0 1031.9 1242.1 1032.0C1244.2 1032.1 1245.9 1030.5 1250.2 1030.5C1254.5 1030.5 1260.9 1031.0 1267.7 1031.7C1274.5 1032.4 1281.5 1034.1 1290.9 1034.6C1300.3 1035.1 1313.0 1034.1 1323.9 1034.6C1334.8 1035.1 1343.2 1036.8 1356.4 1037.5C1369.6 1038.2 1387.3 1038.3 1402.8 1038.6C1418.3 1038.9 1434.8 1039.0 1449.3 1039.2C1463.8 1039.4 1468.2 1039.7 1490.0 1039.8C1511.8 1039.9 1553.3 1039.8 1580.0 1039.8C1606.7 1039.8 1626.7 1040.4 1650.0 1039.8C1673.3 1039.2 1696.4 1037.5 1719.6 1036.3C1742.8 1035.1 1769.4 1033.8 1789.2 1032.8C1809.0 1031.8 1830.3 1030.7 1838.5 1030.3" fill="none" stroke="#FF0000" stroke-width="5.6" stroke-linejoin="round" stroke-linecap="round"/>
<line x1="322.5" y1="207.2" x2="504.0" y2="207.2" stroke="#000" stroke-width="6.4"/>
<polygon points="529.0,207.2 502.0,219.7 502.0,194.7" fill="#000"/>
<line x1="326.0" y1="321.0" x2="505.5" y2="321.0" stroke="#000" stroke-width="6.4"/>
<polygon points="530.5,321.0 503.5,333.5 503.5,308.5" fill="#000"/>
<line x1="277.5" y1="337.5" x2="511.9" y2="434.4" stroke="#000" stroke-width="6.4"/>
<polygon points="535.0,444.0 505.3,445.2 514.8,422.1" fill="#000"/>
<g transform="matrix(0.9929 0 0 1.0279 3.41 -31.40)"><text x="200.0" y="1067.5" font-family='"Liberation Serif", "Times New Roman", serif' font-size="64.5" text-anchor="end" >0</text></g>
<g transform="matrix(0.9932 0 0 1.0163 3.74 -15.44)"><text x="200.0" y="924.4" font-family='"Liberation Serif", "Times New Roman", serif' font-size="64.5" text-anchor="end" >50</text></g>
<g transform="matrix(0.9618 0 0 1.0302 9.06 -23.81)"><text x="200.0" y="781.4" font-family='"Liberation Serif", "Times New Roman", serif' font-size="64.5" text-anchor="end" >100</text></g>
<g transform="matrix(0.9618 0 0 1.0140 9.06 -9.70)"><text x="200.0" y="638.3" font-family='"Liberation Serif", "Times New Roman", serif' font-size="64.5" text-anchor="end" >150</text></g>
<g transform="matrix(1.0022 0 0 1.0116 1.07 -7.06)"><text x="200.0" y="495.2" font-family='"Liberation Serif", "Times New Roman", serif' font-size="64.5" text-anchor="end" >200</text></g>
<g transform="matrix(1.0022 0 0 1.0116 1.07 -4.59)"><text x="200.0" y="352.2" font-family='"Liberation Serif", "Times New Roman", serif' font-size="64.5" text-anchor="end" >250</text></g>
<g transform="matrix(0.9880 0 0 1.0419 3.67 -8.45)"><text x="200.0" y="209.1" font-family='"Liberation Serif", "Times New Roman", serif' font-size="64.5" text-anchor="end" >300</text></g>
<g transform="matrix(0.9935 0 0 1.0256 2.69 -2.09)"><text x="200.0" y="66.0" font-family='"Liberation Serif", "Times New Roman", serif' font-size="64.5" text-anchor="end" >350</text></g>
<g transform="matrix(1.0455 0 0 1.3667 -6.26 -439.43)"><text x="140.0" y="1210.0" font-family='"Liberation Serif", "Times New Roman", serif' font-size="64.5" text-anchor="end" >–</text></g>
<g transform="matrix(0.9712 0 0 1.0302 6.81 -35.58)"><text x="200.0" y="1210.0" font-family='"Liberation Serif", "Times New Roman", serif' font-size="64.5" text-anchor="end" >50</text></g>
<g transform="matrix(0.9536 0 0 1.0256 11.84 -33.00)"><text x="256.0" y="1285.5" font-family='"Liberation Serif", "Times New Roman", serif' font-size="64.5" text-anchor="middle" >0</text></g>
<g transform="matrix(0.9269 0 0 1.0256 40.92 -33.00)"><text x="572.2" y="1285.5" font-family='"Liberation Serif", "Times New Roman", serif' font-size="64.5" text-anchor="middle" >5</text></g>
<g transform="matrix(0.9643 0 0 1.0256 32.69 -33.00)"><text x="888.4" y="1285.5" font-family='"Liberation Serif", "Times New Roman", serif' font-size="64.5" text-anchor="middle" >10</text></g>
<g transform="matrix(0.9286 0 0 1.0256 87.04 -33.00)"><text x="1204.6" y="1285.5" font-family='"Liberation Serif", "Times New Roman", serif' font-size="64.5" text-anchor="middle" >15</text></g>
<g transform="matrix(1.0033 0 0 1.0256 -6.07 -33.00)"><text x="1520.8" y="1285.5" font-family='"Liberation Serif", "Times New Roman", serif' font-size="64.5" text-anchor="middle" >20</text></g>
<g transform="matrix(1.0051 0 0 1.0256 -11.29 -33.00)"><text x="1837.0" y="1285.5" font-family='"Liberation Serif", "Times New Roman", serif' font-size="64.5" text-anchor="middle" >25</text></g>
<g transform="matrix(0.9863 0 0 0.9780 14.93 29.58)"><text x="1046.0" y="1342.0" font-family='"Liberation Serif", "Times New Roman", serif' font-size="64.5" text-anchor="middle" ><tspan font-style="italic">t</tspan> (ms)</text></g>
<g transform="matrix(0.9881 0 0 0.9690 1.34 18.31)"><text transform="translate(74,616) rotate(-90)" font-family='"Liberation Serif", "Times New Roman", serif' font-size="64.5" text-anchor="middle"><tspan font-style="italic">Fc</tspan> (kN)</text></g>
<g transform="matrix(0.9873 0 0 1.0000 3.90 0.50)"><text x="548.0" y="228.0" font-family='"Liberation Serif", "Times New Roman", serif' font-size="64.5" text-anchor="start" >293.7 kN</text></g>
<g transform="matrix(0.9873 0 0 1.0000 3.90 0.00)"><text x="548.0" y="342.5" font-family='"Liberation Serif", "Times New Roman", serif' font-size="64.5" text-anchor="start" >265.9 kN</text></g>
<g transform="matrix(0.9873 0 0 1.0022 3.90 -0.35)"><text x="548.0" y="472.0" font-family='"Liberation Serif", "Times New Roman", serif' font-size="64.5" text-anchor="start" >248.6 kN</text></g>
<g transform="matrix(1.1074 0 0 0.9822 -155.21 4.53)"><text x="1430.0" y="265.7" font-family='"Liberation Serif", "Times New Roman", serif' font-size="64.5" text-anchor="start" font-style="italic" >h</text></g>
<g transform="matrix(1.3857 0 0 0.9760 -565.69 6.72)"><text x="1462.0" y="279.7" font-family='"Liberation Serif", "Times New Roman", serif' font-size="37" text-anchor="start" font-style="italic" >i</text></g>
<g transform="matrix(1.1367 0 0 0.8688 -206.76 30.97)"><text x="1485.0" y="265.7" font-family='"Liberation Serif", "Times New Roman", serif' font-size="64.5" text-anchor="start" fill="#333">=</text></g>
<g transform="matrix(0.9601 0 0 1.0163 56.22 -4.03)"><text x="1542.5" y="265.7" font-family='"Liberation Serif", "Times New Roman", serif' font-size="64.5" text-anchor="start" >10 cm</text></g>
<g transform="matrix(1.1074 0 0 0.9822 -155.21 6.49)"><text x="1430.0" y="364.9" font-family='"Liberation Serif", "Times New Roman", serif' font-size="64.5" text-anchor="start" font-style="italic" >h</text></g>
<g transform="matrix(1.3857 0 0 0.9760 -565.69 9.30)"><text x="1462.0" y="378.9" font-family='"Liberation Serif", "Times New Roman", serif' font-size="37" text-anchor="start" font-style="italic" >i</text></g>
<g transform="matrix(1.1367 0 0 0.8688 -206.76 44.17)"><text x="1485.0" y="364.9" font-family='"Liberation Serif", "Times New Roman", serif' font-size="64.5" text-anchor="start" fill="#333">=</text></g>
<g transform="matrix(0.9801 0 0 1.0163 28.08 -5.44)"><text x="1536.5" y="364.9" font-family='"Liberation Serif", "Times New Roman", serif' font-size="64.5" text-anchor="start" >20 cm</text></g>
<g transform="matrix(1.1074 0 0 0.9822 -155.21 8.73)"><text x="1430.0" y="463.4" font-family='"Liberation Serif", "Times New Roman", serif' font-size="64.5" text-anchor="start" font-style="italic" >h</text></g>
<g transform="matrix(1.3857 0 0 0.9760 -565.69 12.15)"><text x="1462.0" y="477.4" font-family='"Liberation Serif", "Times New Roman", serif' font-size="37" text-anchor="start" font-style="italic" >i</text></g>
<g transform="matrix(1.1367 0 0 0.8688 -206.76 57.53)"><text x="1485.0" y="463.4" font-family='"Liberation Serif", "Times New Roman", serif' font-size="64.5" text-anchor="start" fill="#333">=</text></g>
<g transform="matrix(0.9783 0 0 1.0163 32.09 -6.54)"><text x="1535.8" y="463.4" font-family='"Liberation Serif", "Times New Roman", serif' font-size="64.5" text-anchor="start" >40 cm</text></g>
<line x1="1276" y1="241.9" x2="1382" y2="241.9" stroke="#3D6ECA" stroke-width="6"/>
<line x1="1276" y1="343.9" x2="1382" y2="343.9" stroke="#ED7D31" stroke-width="6"/>
<line x1="1276" y1="445.9" x2="1382" y2="445.9" stroke="#FF0000" stroke-width="6"/>
</svg>
</body></html>
